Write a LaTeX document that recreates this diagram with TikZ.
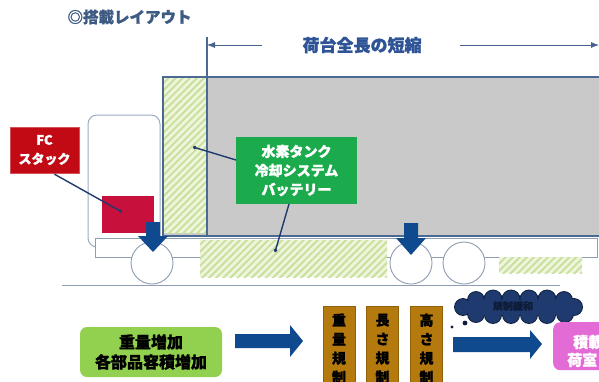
\documentclass[tikz,border=0pt]{standalone}
\usepackage{fontspec}
\setmainfont{Noto Sans CJK JP}[BoldFeatures={FakeBold=1.3}]
\usetikzlibrary{patterns.meta,arrows.meta}

\definecolor{titleblue}{HTML}{3D5B82}
\definecolor{dimblue}{HTML}{2F5496}
\definecolor{boxgray}{HTML}{C9C9C9}
\definecolor{boxedge}{HTML}{4A6A94}
\definecolor{cabedge}{HTML}{9CACC2}
\definecolor{frameedge}{HTML}{8F9DB2}
\definecolor{arrowblue}{HTML}{0F4A8F}
\definecolor{linknavy}{HTML}{1F3A6E}
\definecolor{fcred}{HTML}{C20A14}
\definecolor{fcblock}{HTML}{C8103C}
\definecolor{greenlab}{HTML}{1BAA4C}
\definecolor{lightgreen}{HTML}{92D050}
\definecolor{brown}{HTML}{B57A0E}
\definecolor{cloudblue}{HTML}{1F3A6E}
\definecolor{clouddark}{HTML}{0E1D3A}
\definecolor{pinkbox}{HTML}{E36BD6}
\definecolor{hatchbg}{HTML}{EEF5DC}
\definecolor{hatchln}{HTML}{C8E09C}

\tikzset{
  hatched/.style={fill=hatchbg, postaction={pattern={Lines[angle=45,distance=5pt,line width=1.9pt]}, pattern color=hatchln}},
  wheel/.style={draw=frameedge, fill=white, line width=0.9pt},
  link/.style={draw=linknavy, line width=1.4pt, -{Circle[length=3.5pt]}},
  dimarrow/.style={draw=dimblue!70!gray, line width=0.8pt, -{Latex[length=8pt,width=6pt]}},
  label/.style={inner sep=0pt, align=center, font=\bfseries},
  regbox/.style={fill=brown, draw=brown!80!black, minimum width=32pt, minimum height=85pt, anchor=north,
    inner ysep=2pt, align=center, font=\fontsize{14}{19}\selectfont\bfseries, text=black},
  bigarrow/.style={fill=arrowblue},
  puff/.style={fill=cloudblue, draw=clouddark, line width=0.8pt}
}

\begin{document}
\begin{tikzpicture}[x=1pt,y=-1pt]
  \useasboundingbox (0,0) rectangle (599,381);
  \clip (0,0) rectangle (599,381);

  % heading
  \node[anchor=west, text=titleblue, font=\fontsize{15.5}{15.5}\selectfont\bfseries] (title) at (64,17) {◎搭載レイアウト};

  % cargo body
  \fill[boxgray] (163,77) rectangle (605,236);
  \node[hatched, minimum width=43pt, minimum height=155pt, inner sep=0pt, anchor=north west] (tankzone) at (164,78) {};
  \draw[boxedge, line width=1.3pt] (605,77) -- (163,77) -- (163,236) -- (605,236);
  \draw[boxedge, line width=1.4pt] (207,37) -- (207,236);

  % overall-length dimension
  \coordinate (dimL) at (207,45);
  \coordinate (dimR) at (599,45);
  \coordinate (dimLs) at (262,45);
  \coordinate (dimRs) at (460,45);
  \node[text=dimblue, font=\fontsize{17}{17}\selectfont\bfseries] (dimtxt) at (362,45) {荷台全長の短縮};
  \draw[dimarrow] (dimLs) -- (dimL);
  \draw[dimarrow] (dimRs) -- (dimR);

  % cab
  \draw[cabedge, fill=white, line width=1pt, rounded corners=9pt] (88,115) rectangle (160,247);
  \node[fill=fcblock, minimum width=52pt, minimum height=37pt, inner sep=0pt] (fcunit) at (128,214.5) {};

  % chassis frame
  \draw[frameedge, fill=white, line width=0.9pt] (95,238) rectangle (597,257);

  % under-floor hatched zones
  \node[hatched, minimum width=187pt, minimum height=37pt, inner sep=0pt, anchor=north west] (battzone) at (200,240) {};
  \node[hatched, minimum width=83pt, minimum height=16pt, inner sep=0pt, anchor=north west] (rearzone) at (499,257) {};

  % ground and wheels
  \draw[frameedge, line width=1pt] (62,285) -- (560,285);
  \draw[wheel] (152,263) circle (21);
  \draw[wheel] (411,263) circle (21);
  \draw[wheel] (464,263) circle (21);

  % axle load arrows
  \fill[bigarrow] (146,222) -- (160,222) -- (160,236) -- (168,236) -- (153,252) -- (138,236) -- (146,236) -- cycle;
  \fill[bigarrow] (404,223) -- (418,223) -- (418,238) -- (426,238) -- (411,255) -- (396,238) -- (404,238) -- cycle;

  % labels
  \node[label, fill=fcred, draw=fcred!70!white, text=white, minimum width=69pt, minimum height=46pt,
        font=\fontsize{13}{19}\selectfont\bfseries] (fclabel) at (44.5,150) {FC\\スタック};
  \node[label, fill=greenlab, text=white, minimum width=121pt, minimum height=67pt,
        font=\fontsize{14}{19}\selectfont\bfseries] (tanklabel) at (296.5,170.5) {水素タンク\\冷却システム\\バッテリー};

  \coordinate (fcpt) at (122,212);
  \coordinate (tankpt) at (193,147);
  \coordinate (battpt) at (275,252);
  \coordinate (tankfrom) at (236,160);
  \coordinate (battfrom) at (289,204);
  \draw[link] (fclabel.south) ++(10,1) -- (fcpt);
  \draw[link] (tankfrom) -- (tankpt);
  \draw[link] (battfrom) -- (battpt);

  % consequence chain
  \node[label, fill=lightgreen, rounded corners=7pt, minimum width=142pt, minimum height=50pt, text=black,
        font=\fontsize{16}{20}\selectfont\bfseries] (increase) at (151,352) {重量増加\\各部品容積増加};
  \fill[bigarrow] (235,334) -- (290,334) -- (290,325) -- (303,341) -- (290,357) -- (290,348) -- (235,348) -- cycle;

  \node[regbox] (weightreg) at (339,306) {重\\量\\規\\制};
  \node[regbox] (lengthreg) at (382.5,306) {長\\さ\\規\\制};
  \node[regbox] (heightreg) at (426.5,306) {高\\さ\\規\\制};

  % deregulation cloud: outlined puffs, then filled again to hide inner outlines
  \foreach \cx/\cy/\r in {463/307/8.5, 476/300/8.5, 493/299/9, 511/299/9, 529/299/9, 547/299/9, 564/300/8.5, 574/307/8.5,
                          565/314/8.5, 547/315/8.5, 529/315/8.5, 511/315/8.5, 493/315/8.5, 476/314/8.5}
    \draw[puff] (\cx,\cy) circle (\r);
  \foreach \cx/\cy/\r in {463/307/7.7, 476/300/7.7, 493/299/8.2, 511/299/8.2, 529/299/8.2, 547/299/8.2, 564/300/7.7, 574/307/7.7,
                          565/314/7.7, 547/315/7.7, 529/315/7.7, 511/315/7.7, 493/315/7.7, 476/314/7.7}
    \fill[cloudblue] (\cx,\cy) circle (\r);
  \fill[cloudblue] (470,300) rectangle (568,315);
  \node[text=clouddark, font=\fontsize{10}{10}\selectfont\bfseries] (relax) at (513,306) {規制緩和};
  \fill[clouddark] (452,327) circle (1.6);
  \fill[clouddark] (465,323) circle (2.4);

  \fill[bigarrow] (453,337) -- (530,337) -- (530,330) -- (542,344) -- (530,359) -- (530,352) -- (453,352) -- cycle;

  \node[fill=pinkbox, rounded corners=7pt, minimum width=70pt, minimum height=48pt, anchor=north west] (payload) at (553,322) {};
  \node[anchor=west, text=white, font=\fontsize{15}{15}\selectfont\bfseries, inner sep=0pt] (payload1) at (573,342) {積載};
  \node[anchor=west, text=white, font=\fontsize{15}{15}\selectfont\bfseries, inner sep=0pt] (payload2) at (567,360) {荷室};
\end{tikzpicture}
\end{document}
